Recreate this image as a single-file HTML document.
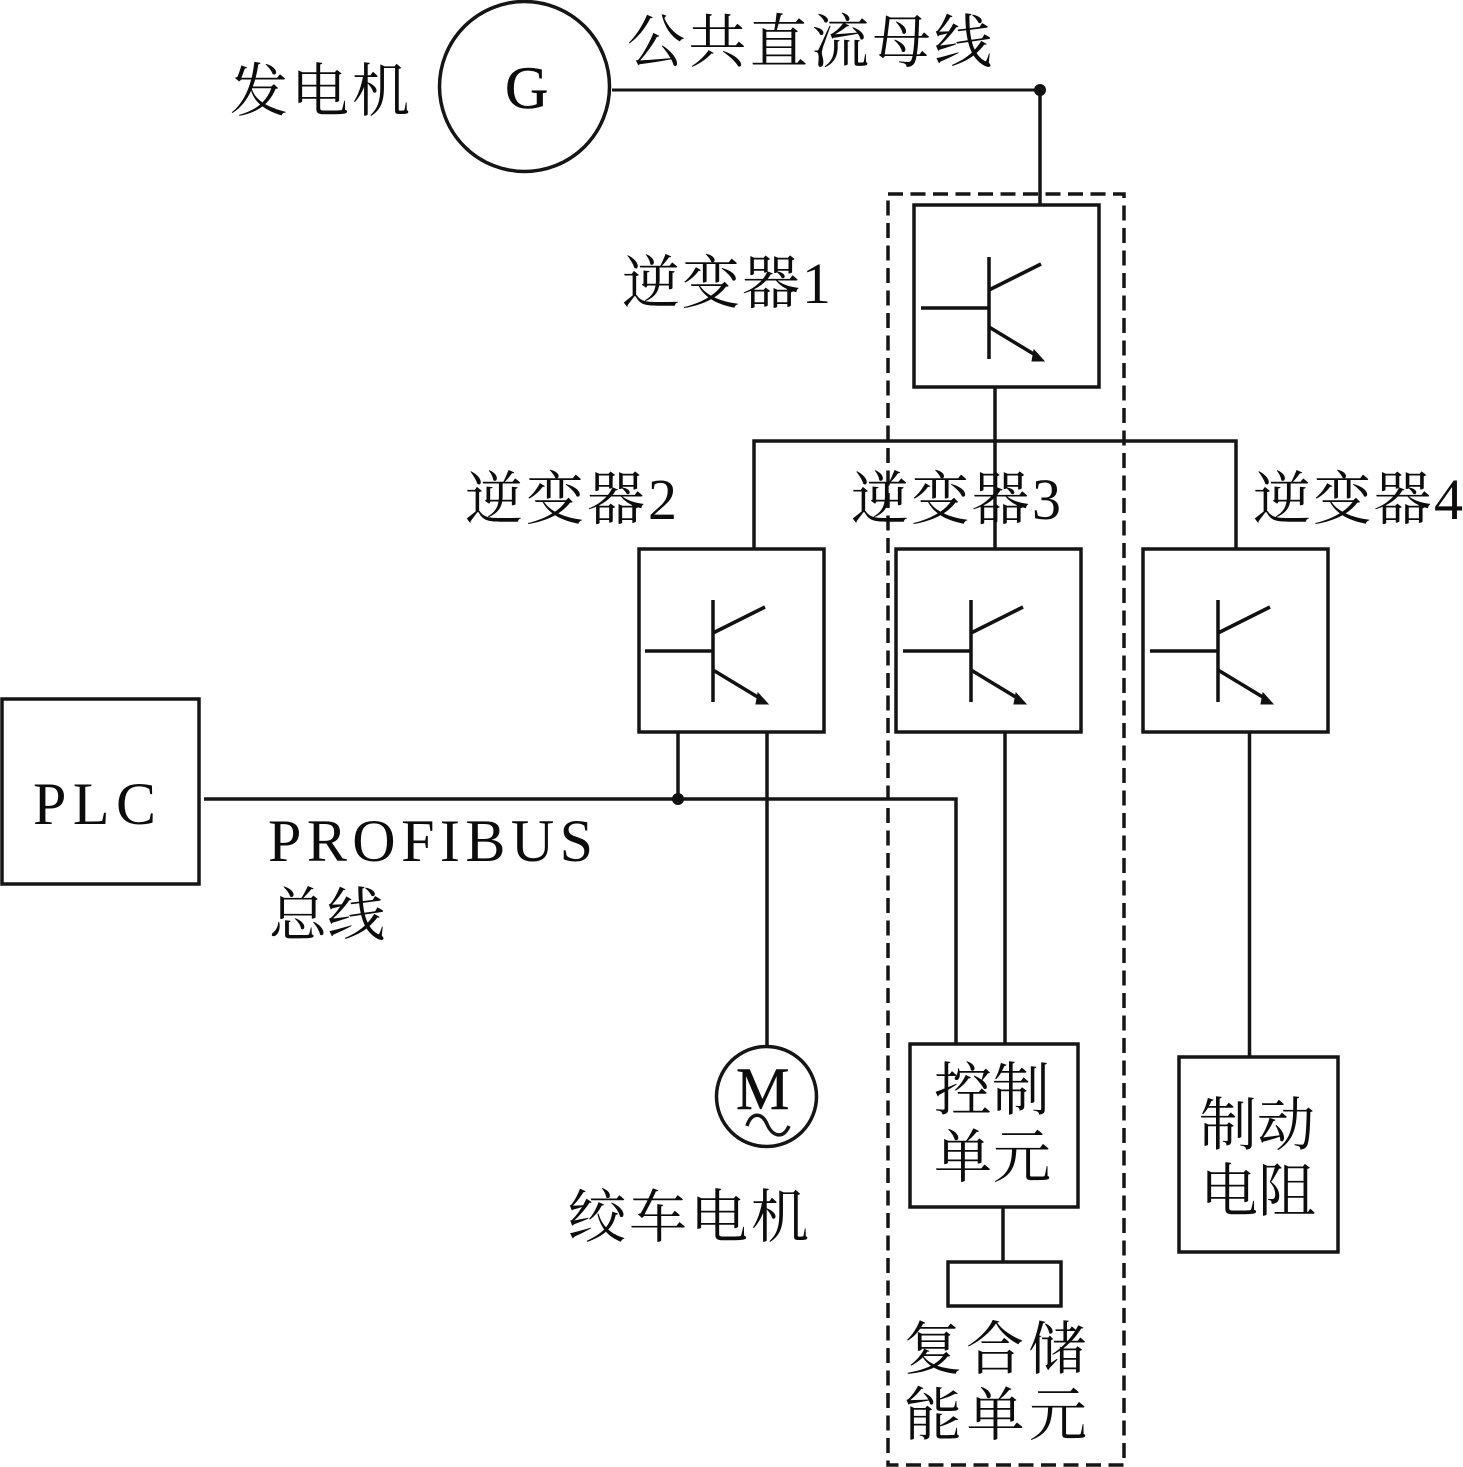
<!DOCTYPE html>
<html><head><meta charset="utf-8">
<style>
html,body{margin:0;padding:0;background:#fff;width:1463px;height:1467px;overflow:hidden}
svg{display:block}
text{font-family:"Liberation Serif","Noto Serif CJK SC",serif;fill:#0c0c0c}
</style></head><body>
<svg width="1463" height="1467" viewBox="0 0 1463 1467" xmlns="http://www.w3.org/2000/svg">
<defs>
<g id="t" fill="none" stroke="#111" stroke-width="3.5">
<path d="M0 104H68M68 53V155M68 86L120 60M68 123L116 152"/>
<path d="M123 157L111 157L113 146Z" fill="#111" stroke-width="1"/>
</g>
</defs>
<g fill="none" stroke="#151515" stroke-width="3.500">
<circle cx="524.500" cy="86.500" r="85"/>
<path d="M612 90H1040" stroke-width="3"/>
<path d="M1040 90V205"/>
<rect x="914" y="205" width="185" height="182"/>
<path d="M995 387V549M754 549V441H1236V549"/>
<rect x="639" y="549" width="185" height="183"/>
<rect x="896" y="549" width="185" height="183"/>
<rect x="1143" y="549" width="185" height="183"/>
<rect x="2" y="699" width="197" height="185"/>
<path d="M204 799H956V1044M678 732V799M767 732V1046M1005 732V1044M1249.500 732V1057M1003 1207V1262"/>
<circle cx="766.500" cy="1096.500" r="50"/>
<rect x="910" y="1044" width="168" height="163"/>
<rect x="948" y="1262" width="113" height="44"/>
<rect x="1179" y="1057" width="159" height="195"/>
<rect x="888" y="194" width="236" height="1271" stroke-dasharray="15 7.500"/>
<path d="M747 1126C751 1112 762 1112 767 1124S783 1140 789 1126"/>
</g>
<circle cx="1040" cy="90" r="6" fill="#111"/>
<circle cx="678" cy="799" r="6" fill="#111"/>
<use href="#t" x="921" y="204"/>
<use href="#t" x="645" y="547"/>
<use href="#t" x="903" y="547"/>
<use href="#t" x="1150" y="547"/>
<g font-size="58">
<text x="230" y="111" textLength="180">发电机</text>
<text x="627" y="62" textLength="365">公共直流母线</text>
<text x="622" y="303" textLength="209">逆变器1</text>
<text x="465" y="519" textLength="212">逆变器2</text>
<text x="851" y="519" textLength="210">逆变器3</text>
<text x="1253" y="519" textLength="210">逆变器4</text>
<text x="568" y="1237" textLength="241">绞车电机</text>
<text x="934" y="1110" textLength="116">控制</text>
<text x="934" y="1177" textLength="117">单元</text>
<text x="1199" y="1145" textLength="116">制动</text>
<text x="1200" y="1211" textLength="116">电阻</text>
<text x="904" y="1369" textLength="182">复合储</text>
<text x="904" y="1435" textLength="183">能单元</text>
<text x="269" y="935" textLength="116">总线</text>
<text x="505" y="108" font-size="60" stroke="#0c0c0c" stroke-width="0.5">G</text>
<text x="33" y="824" font-size="60" textLength="123">PLC</text>
<text x="268" y="861" font-size="60" textLength="325">PROFIBUS</text>
<text x="736" y="1109" font-size="60" stroke="#0c0c0c" stroke-width="0.5">M</text>
</g>
</svg>
</body></html>
